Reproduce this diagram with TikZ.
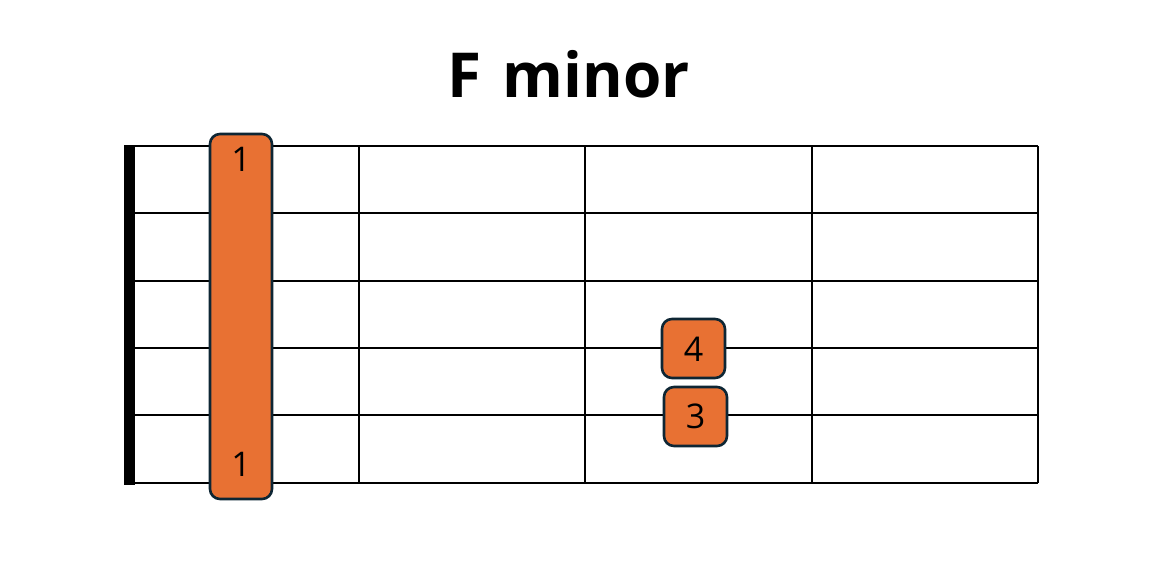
\documentclass[tikz,border=0pt]{standalone}
\usepackage{fontspec}
\setmainfont{Open Sans}
\begin{document}
\begin{tikzpicture}[x=1pt,y=-1pt,
  gridline/.style={line width=1.4pt,black},
  fingerbox/.style={draw={rgb,255:red,14;green,38;blue,52}, line width=2.6pt, fill={rgb,255:red,232;green,113;blue,51}, rounded corners=10pt},
  fingernum/.style={font=\fontsize{34}{34}\selectfont, text=black}]
\useasboundingbox (0,0) rectangle (1172,584);
\fill[white] (0,0) rectangle (1172,584);
\node[font=\bfseries\fontsize{62}{62}\selectfont] (title) at (569,74) {F\hspace{0.08em} minor};
% strings
\foreach \y [count=\i] in {146,213,281,348,415,483} {
  \coordinate (sL\i) at (130,\y);
  \coordinate (sR\i) at (1038,\y);
  \draw[gridline] (sL\i) -- (sR\i);
}
% frets
\foreach \x [count=\i] in {359,585,812,1038} {
  \coordinate (fT\i) at (\x,146);
  \coordinate (fB\i) at (\x,483);
  \draw[gridline] (fT\i) -- (fB\i);
}
% nut
\fill[black] (124,145) rectangle (135,485);
% barre
\draw[fingerbox] (210,134) rectangle (272,499);
\node[fingernum] (b1) at (241,159) {1};
\node[fingernum] (b2) at (241,464) {1};
% fingers
\draw[fingerbox] (662,319) rectangle (725,378);
\node[fingernum] (f4) at (693.5,349) {4};
\draw[fingerbox] (664,387) rectangle (727,446);
\node[fingernum] (f3) at (695.5,416) {3};
\end{tikzpicture}
\end{document}
